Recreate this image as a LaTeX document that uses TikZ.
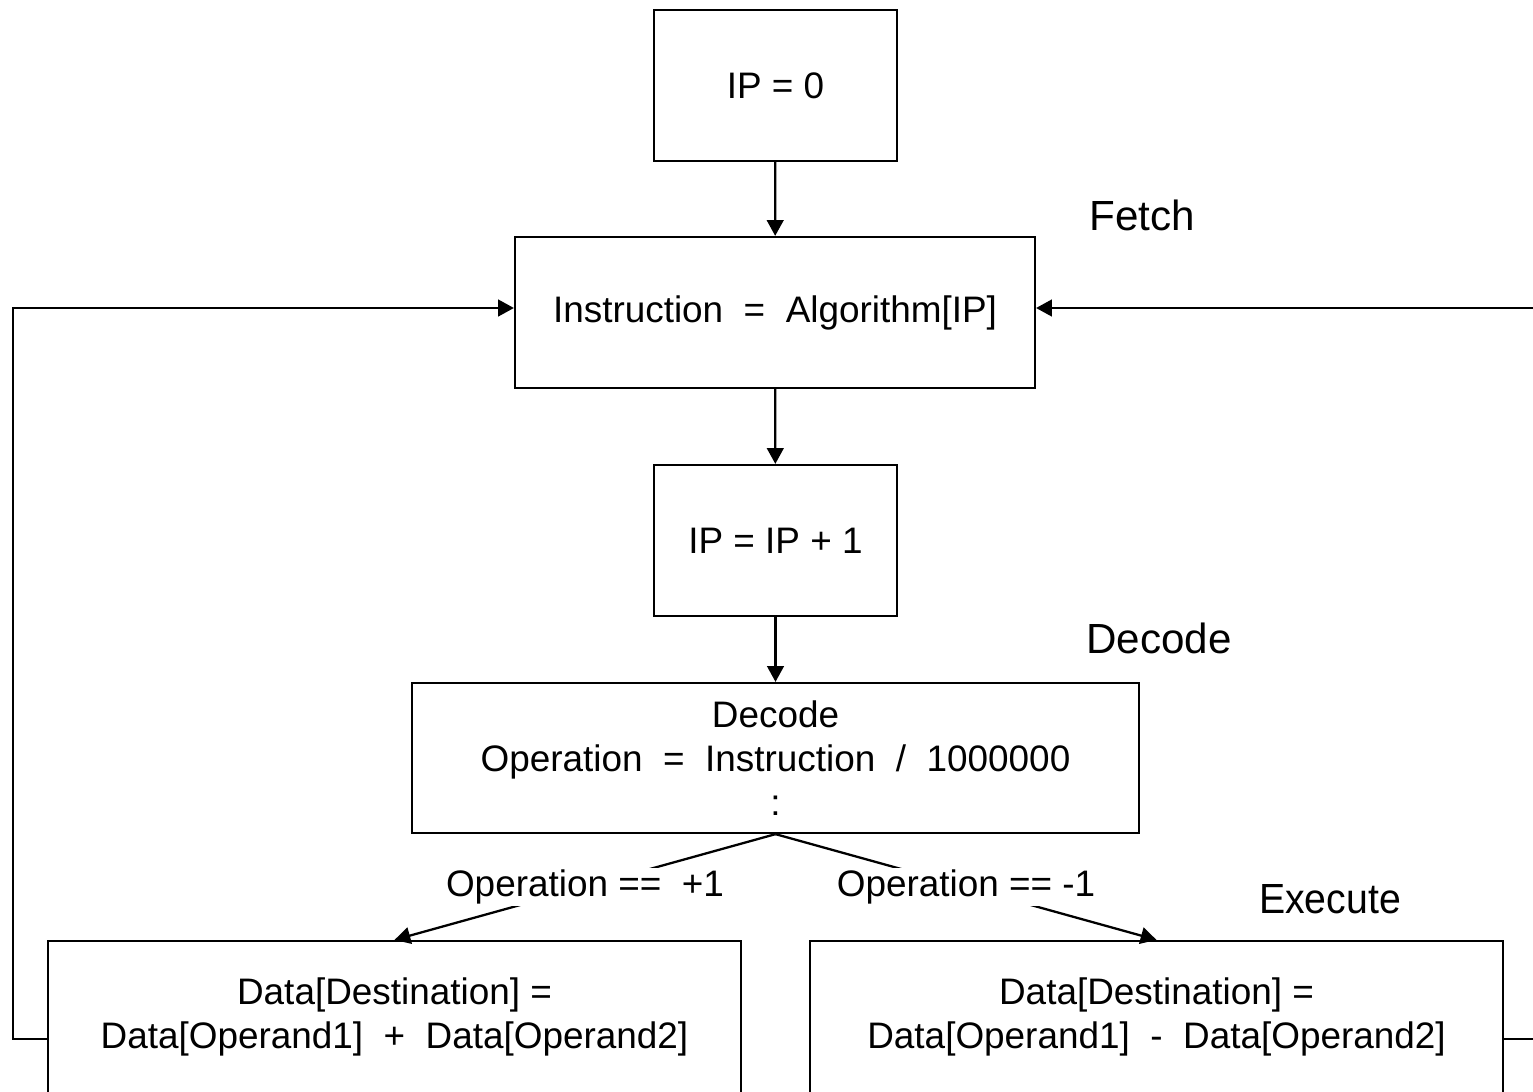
\documentclass[tikz,border=0pt]{standalone}
\usepackage{fontspec}
\setmainfont{Liberation Sans}
\usetikzlibrary{arrows.meta}
\begin{document}
\begin{tikzpicture}[x=0.02cm,y=-0.02cm,
  box/.style={draw=black,line width=1.3pt,fill=white,align=center,inner sep=0pt,
    font=\fontsize{21pt}{25pt}\selectfont},
  arr/.style={line width=1.3pt,-{Triangle[length=9pt,width=9.5pt]}},
  lbl/.style={font=\fontsize{21pt}{25pt}\selectfont,fill=white,inner sep=1pt},
  stage/.style={font=\fontsize{24pt}{28pt}\selectfont,inner sep=0pt}]
\useasboundingbox (0,0) rectangle (1533,1091);
\fill[white] (0,0) rectangle (1533,1091);
\node[box,minimum width=4.86cm,minimum height=3.02cm] (ip0) at (775.5,85.5) {IP = 0};
\node[box,minimum width=10.4cm,minimum height=3.02cm] (ins) at (775,312.5) {Instruction \ = \ Algorithm[IP]};
\node[box,minimum width=4.86cm,minimum height=3.02cm] (inc) at (775.5,540.5) {IP = IP + 1};
\node[box,minimum width=14.54cm,minimum height=3.0cm] (dec) at (775.5,758) {Decode\\Operation \ = \ Instruction \ / \ 1000000\\:};
\node[box,minimum width=13.86cm,minimum height=3.04cm] (lb) at (394.5,1017) {Data[Destination] =\\Data[Operand1] \ + \ Data[Operand2]};
\node[box,minimum width=13.86cm,minimum height=3.04cm] (rb) at (1156.5,1017) {Data[Destination] =\\Data[Operand1] \ - \ Data[Operand2]};
\node[stage] (fetch) at (1142,215) {Fetch};
\node[stage] (decl) at (1159,638) {Decode};
\node[stage,xscale=0.93] (exec) at (1330,899) {Execute};
\draw[arr] (ip0) -- (ins);
\draw[arr] (ins) -- (inc);
\draw[arr] (inc) -- (dec);
\draw[arr] (dec.south) -- node[lbl] {Operation == \ +1} (lb.north);
\draw[arr] (dec.south) -- node[lbl] {Operation == -1} (rb.north);
\draw[arr] ([yshift=-0.44cm]lb.west) -- ++(-34,0) |- ([yshift=0.09cm]ins.west);
\draw[arr] ([yshift=-0.44cm]rb.east) -- ++(60,0) |- ([yshift=0.09cm]ins.east);
\end{tikzpicture}
\end{document}
